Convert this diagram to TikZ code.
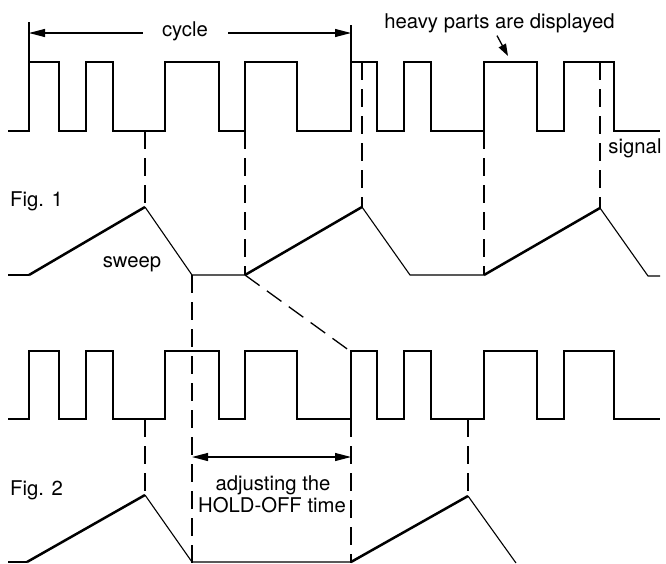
\documentclass[tikz,border=0pt]{standalone}
\usepackage{fontspec}
\setmainfont{TeX Gyre Heros}
\usetikzlibrary{arrows.meta}
\begin{document}
\begin{tikzpicture}[x=1pt,y=-1pt,
  thinline/.style={line width=1.1pt, line join=miter},
  heavy/.style={line width=2.5pt, line join=miter},
  dashline/.style={line width=1.3pt, dash pattern=on 18pt off 9pt},
  lbl/.style={font=\fontsize{20.3}{23}\selectfont, inner sep=0pt, anchor=base},
  arr/.style={line width=1.1pt, -{Triangle[length=16pt,width=8pt]}},
  arrboth/.style={line width=1.1pt, {Triangle[length=16pt,width=8pt]}-{Triangle[length=16pt,width=8pt]}},
  arrsmall/.style={line width=1.3pt, -{Triangle[length=12pt,width=8pt]}}]
\useasboundingbox (0,0) rectangle (666,563);

% ---------- Fig. 1 signal ----------
\draw[thinline] (8,131) -- (29,131) -- (29,62) -- (59,62) -- (59,131) -- (86,131) -- (86,62) -- (113,62) -- (113,131)
  -- (165,131) -- (165,62) -- (219,62) -- (219,131) -- (245,131) -- (245,62) -- (297,62) -- (297,131)
  -- (351,131) -- (351,62) -- (377,62) -- (377,131) -- (404,131) -- (404,62) -- (431,62) -- (431,131)
  -- (484,131) -- (484,62) -- (537,62) -- (537,131) -- (564,131) -- (564,62) -- (614,62) -- (614,131) -- (660,131);
\draw[heavy] (29,131) -- (29,62) -- (59,62) -- (59,131) -- (86,131) -- (86,62) -- (113,62) -- (113,131) -- (145,131);
\draw[heavy] (245,131) -- (245,62) -- (297,62) -- (297,131) -- (351,131) -- (351,62) -- (362,62);
\draw[heavy] (484,131) -- (484,62) -- (537,62) -- (537,131) -- (564,131) -- (564,62) -- (600,62);

% cycle marker
\coordinate (c1) at (29,33);
\coordinate (c2) at (351,33);
\draw[thinline] (29,22) -- (29,62);
\draw[thinline] (351,25) -- (351,62);
\node[lbl] (cyc) at (185,36) {cycle};
\draw[arr] ([xshift=-19pt]cyc.west |- c1) -- (c1);
\draw[arr] ([xshift=20pt]cyc.east |- c2) -- (c2);

\node[lbl] (hp) at (499.5,28) {heavy parts are displayed};
\coordinate (hpt) at (508,56);
\draw[arrsmall] ([shift={(-2.5,3)}]hp.south) -- (hpt);

\node[lbl] (sig) at (635,153) {signal};
\node[lbl, anchor=base west] (f1) at (10,206) {Fig. 1};

% ---------- Fig. 1 sweep ----------
\draw[thinline] (8,275) -- (29,275);
\draw[heavy] (29,275) -- (145,207);
\draw[thinline] (145,207) -- (192,275) -- (245,275);
\draw[heavy] (245,275) -- (362,207);
\draw[thinline] (362,207) -- (410,275) -- (484,275);
\draw[heavy] (484,275) -- (600,208);
\draw[thinline] (600,208) -- (648,276) -- (660,276);
\node[lbl] (sw) at (132,267) {sweep};

% dashed links Fig. 1
\draw[dashline] (145,131) -- (145,207);
\draw[dashline] (245,131) -- (245,275);
\draw[dashline] (362,62) -- (362,207);
\draw[dashline] (484,131) -- (484,275);
\draw[dashline] (600,62) -- (600,208);
\draw[dashline] (245,275) -- (350,351);
\draw[dashline] (192,275) -- (192,563);

% ---------- Fig. 2 signal ----------
\draw[thinline] (8,419) -- (29,419) -- (29,351) -- (59,351) -- (59,419) -- (86,419) -- (86,351) -- (113,351) -- (113,419)
  -- (165,419) -- (165,351) -- (219,351) -- (219,419) -- (245,419) -- (245,351) -- (297,351) -- (297,419)
  -- (351,419) -- (351,351) -- (377,351) -- (377,419) -- (404,419) -- (404,351) -- (431,351) -- (431,419)
  -- (484,419) -- (484,351) -- (537,351) -- (537,419) -- (564,419) -- (564,351) -- (614,351) -- (614,419) -- (660,419);
\draw[heavy] (29,419) -- (29,351) -- (59,351) -- (59,419) -- (86,419) -- (86,351) -- (113,351) -- (113,419) -- (145,419);
\draw[heavy] (351,419) -- (351,351) -- (377,351) -- (377,419) -- (404,419) -- (404,351) -- (431,351) -- (431,419) -- (468,419);

% ---------- Fig. 2 sweep ----------
\draw[thinline] (8,562) -- (27,562);
\draw[heavy] (27,562) -- (145,495);
\draw[thinline] (145,495) -- (192,562) -- (351,562);
\draw[heavy] (351,562) -- (468,496);
\draw[thinline] (468,496) -- (516,563);

% dashed links Fig. 2
\draw[dashline] (145,419) -- (145,495);
\draw[dashline] (351,419) -- (351,563);
\draw[dashline] (468,419) -- (468,496);

% hold-off
\coordinate (h1) at (192,457);
\coordinate (h2) at (351,457);
\draw[arrboth] (h1) -- (h2);
\node[lbl] (adj1) at (273,490) {adjusting the};
\node[lbl] (adj2) at (272,512) {HOLD-OFF time};
\node[lbl, anchor=base west] (f2) at (10,495) {Fig. 2};
\end{tikzpicture}
\end{document}
